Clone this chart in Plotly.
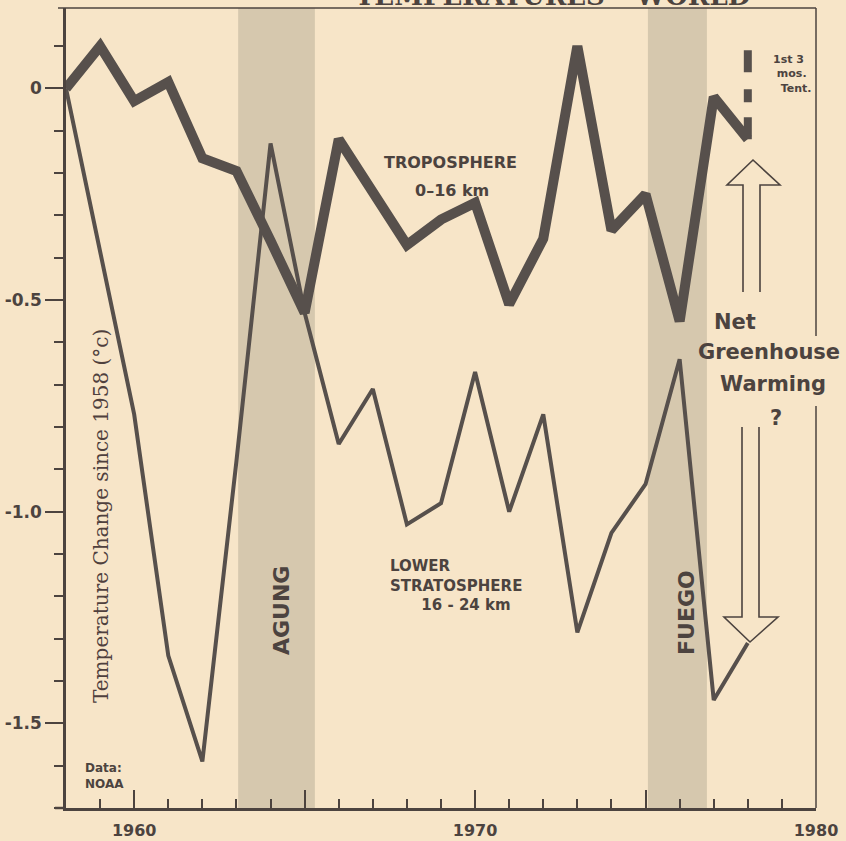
import plotly.graph_objects as go

# ---------------- data ----------------
years = [1958, 1959, 1960, 1961, 1962, 1963, 1964, 1965, 1966, 1967, 1968,
         1969, 1970, 1971, 1972, 1973, 1974, 1975, 1976, 1977, 1978]
troposphere = [0.0, 0.10, -0.03, 0.015, -0.165, -0.195, -0.36, -0.53, -0.12, -0.24, -0.37,
               -0.31, -0.27, -0.51, -0.355, 0.10, -0.335, -0.25, -0.55, -0.02, -0.12]
stratosphere = [0.0, -0.39, -0.77, -1.34, -1.59, -0.88, -0.13, -0.53, -0.84, -0.71, -1.03,
                -0.98, -0.67, -1.00, -0.77, -1.285, -1.05, -0.935, -0.64, -1.445, -1.31]
tentative_x = [1978, 1978]
tentative_y = [-0.12, 0.09]
volcano_names = ["AGUNG", "FUEGO"]
volcano_start = [1963.05, 1975.07]
volcano_end = [1965.3, 1976.8]
ytick_vals = [0, -0.5, -1.0, -1.5]
ytick_text = ["0", "-0.5", "-1.0", "-1.5"]
xtick_vals = [1960, 1965, 1970, 1975, 1980]
xtick_text = ["1960", "", "1970", "", "1980"]

# ---------------- styling ----------------
W, H = 846, 841
ML, MR, MT, MB = 66, 30, 8, 33
PW, PH = W - ML - MR, H - MT - MB
PAPER = "#f7e5c8"
INK = "#4c433f"
LINE = "#57504c"
BAND = "#d6c8ae"
SANS = "DejaVu Sans"
SERIF = "DejaVu Serif"


def xp(px):
    return (px - ML) / PW


def yp(py):
    return (H - MB - py) / PH


fig = go.Figure()

fig.add_trace(go.Scatter(x=years, y=stratosphere, mode="lines",
                         line=dict(color=LINE, width=4), hoverinfo="skip", showlegend=False))
fig.add_trace(go.Scatter(x=years, y=troposphere, mode="lines",
                         line=dict(color=LINE, width=10), hoverinfo="skip", showlegend=False))
fig.add_trace(go.Scatter(x=tentative_x, y=tentative_y, mode="lines",
                         line=dict(color=LINE, width=8, dash="22px,15px,13px,17px,22px"),
                         hoverinfo="skip", showlegend=False))

shapes = []
for s, e in zip(volcano_start, volcano_end):
    shapes.append(dict(type="rect", xref="x", yref="paper", x0=s, x1=e, y0=0, y1=1,
                       fillcolor=BAND, line=dict(width=0), layer="below"))
# top border and broken right border
shapes.append(dict(type="line", xref="paper", yref="paper", x0=xp(58), x1=1, y0=1, y1=1,
                   line=dict(color=INK, width=1.5)))
shapes.append(dict(type="line", xref="paper", yref="paper", x0=1, x1=1, y0=1, y1=yp(336),
                   line=dict(color=INK, width=1.5)))
shapes.append(dict(type="line", xref="paper", yref="paper", x0=1, x1=1, y0=yp(406), y1=0,
                   line=dict(color=INK, width=1.5)))
# bottom axis line runs a little past the left axis
shapes.append(dict(type="line", xref="paper", yref="paper", x0=xp(55), x1=0, y0=0, y1=0,
                   line=dict(color=INK, width=2.5)))


def pth(pts):
    return "M " + " L ".join(f"{xp(a):.5f},{yp(b):.5f}" for a, b in pts)


# hollow arrows (decoration)
up_arrow = [(743, 292), (743, 185), (727, 185), (753, 160), (780, 185), (760, 185), (760, 292)]
down_arrow = [(742, 427), (742, 617), (724, 617), (750, 642), (778, 617), (759, 617), (759, 427)]
for pts in (up_arrow, down_arrow):
    shapes.append(dict(type="path", xref="paper", yref="paper", path=pth(pts),
                       line=dict(color=INK, width=1.6), fillcolor=PAPER))

ann = []


def txt(text, px, py, size, xanchor="center", angle=0, family=SANS, weight="bold",
        color=INK, align="center"):
    ann.append(dict(text=text, x=xp(px), y=yp(py), xref="paper", yref="paper",
                    xanchor=xanchor, yanchor="middle", showarrow=False, textangle=angle,
                    align=align,
                    font=dict(family=family, size=size, color=color, weight=weight)))


txt("TROPOSPHERE", 450, 163, 16)
txt("0–16 km", 452, 190, 16)
txt("LOWER<br>STRATOSPHERE<br>" + "&nbsp;" * 6 + "16 - 24 km", 388, 586, 15,
    xanchor="left", align="left")
txt(volcano_names[0], 281, 611, 22, angle=-90)
txt(volcano_names[1], 686, 613, 22, angle=-90)
txt("Net", 712, 322, 21, xanchor="left")
txt("Greenhouse", 769, 352, 21)
txt("Warming", 773, 384, 21)
txt("?", 776, 418, 21)
txt("1st 3<br>&nbsp;mos.<br>&nbsp;&nbsp;Tent.", 771, 74, 11, xanchor="left", align="left")
txt("Data:<br>NOAA", 83, 776, 12, xanchor="left", align="left")
txt("Temperature Change since 1958 (°c)", 101, 516, 20, angle=-90, family=SERIF,
    weight="normal", color="#4f403d")
# title strip cut off at the top edge of the scan
ann.append(dict(text="TEMPERATURES – WORLD", x=xp(752), y=yp(13), xref="paper", yref="paper",
                xanchor="right", yanchor="bottom", showarrow=False,
                font=dict(family=SERIF, size=26, color=INK, weight="bold")))

fig.update_layout(
    width=W, height=H,
    margin=dict(l=ML, r=MR, t=MT, b=MB),
    paper_bgcolor=PAPER, plot_bgcolor=PAPER,
    shapes=shapes, annotations=ann, showlegend=False,
    xaxis=dict(range=[1958, 1980], showgrid=False, zeroline=False, automargin=False,
               showline=True, linecolor=INK, linewidth=2.5,
               ticks="inside", ticklen=18, tickwidth=2, tickcolor=INK,
               tickvals=xtick_vals, ticktext=xtick_text, ticklabelstandoff=6,
               tickfont=dict(family=SANS, size=16, color=INK, weight="bold"),
               minor=dict(ticks="inside", dtick=1, tick0=1958, ticklen=9, tickwidth=2,
                          tickcolor=INK, showgrid=False)),
    yaxis=dict(range=[-1.70, 0.19], showgrid=False, zeroline=False, automargin=False,
               showline=True, linecolor=INK, linewidth=2.5,
               ticks="outside", ticklen=18, tickwidth=2, tickcolor=INK,
               tickvals=ytick_vals, ticktext=ytick_text,
               tickfont=dict(family=SANS, size=17, color=INK, weight="bold"),
               minor=dict(ticks="outside", dtick=0.1, tick0=0, ticklen=9, tickwidth=2,
                          tickcolor=INK, showgrid=False)),
)

fig.write_html("out.html",
               config={"displayModeBar": False},
               post_script="document.body.style.margin='0';"
                           "document.body.style.background='#f7e5c8';")
